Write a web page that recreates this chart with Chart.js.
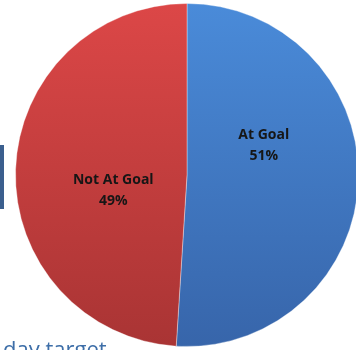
<!DOCTYPE html>
<html>
<head>
<meta charset="utf-8">
<script src="https://cdn.jsdelivr.net/npm/chart.js@4"></script>
<style>
  html, body { margin: 0; padding: 0; background: #fff; overflow: hidden; width: 356px; height: 350px; }
  #wrap { position: relative; width: 356px; height: 350px; overflow: hidden; }
  #goal-chart { position: absolute; left: 0; top: 0; }
  .side-bar { position: absolute; left: 0; top: 145px; width: 4px; height: 64px; background: #3b5f8e; }
  .caption { position: absolute; left: 3px; top: 333px; font-family: 'Open Sans', sans-serif; font-size: 22px; color: #3d6ea8; white-space: nowrap; }
</style>
</head>
<body>
<div id="wrap">
  <div class="side-bar"></div>
  <canvas id="goal-chart" width="362" height="350"></canvas>
  <div class="caption">day target</div>
</div>
<script>
// chart values
const categories = ['At Goal', 'Not At Goal'];
const percents = [51, 49];
const topColors = ['#4a8bd9', '#dc4747'];
const bottomColors = ['#3765aa', '#a93434'];

function sliceGradient(ctx) {
  const chart = ctx.chart;
  const area = chart.chartArea;
  const i = ctx.dataIndex;
  if (!area) return topColors[i];
  const g = chart.ctx.createLinearGradient(0, area.top, 0, area.bottom);
  g.addColorStop(0, topColors[i]);
  g.addColorStop(1, bottomColors[i]);
  return g;
}

// labels drawn inside the slices (Excel style, two lines)
const sliceLabels = {
  id: 'sliceLabels',
  afterDatasetsDraw(chart, args, opts) {
    const ctx = chart.ctx;
    const meta = chart.getDatasetMeta(0);
    ctx.save();
    ctx.font = 'bold 14px "Open Sans", sans-serif';
    ctx.fillStyle = '#161616';
    ctx.textAlign = 'center';
    ctx.textBaseline = 'middle';
    meta.data.forEach((arc, i) => {
      const p = arc.tooltipPosition();
      const off = opts.offsets[i];
      const x = p.x + off[0], y = p.y + off[1];
      ctx.fillText(categories[i], x, y - 11);
      ctx.fillText(percents[i] + '%', x, y + 10);
    });
    ctx.restore();
  }
};

new Chart(document.getElementById('goal-chart'), {
  type: 'pie',
  data: {
    labels: categories,
    datasets: [{
      data: percents,
      backgroundColor: sliceGradient,
      borderColor: 'rgba(255,255,255,0.35)',
      borderWidth: 1,
      hoverOffset: 0
    }]
  },
  options: {
    responsive: false,
    animation: false,
    layout: { padding: { left: 15, right: 3, top: 3, bottom: 3 } },
    plugins: {
      legend: { display: false },
      tooltip: { enabled: false },
      sliceLabels: { offsets: [[-9, -32], [12, 19]] }
    }
  },
  plugins: [sliceLabels]
});
</script>
</body>
</html>
